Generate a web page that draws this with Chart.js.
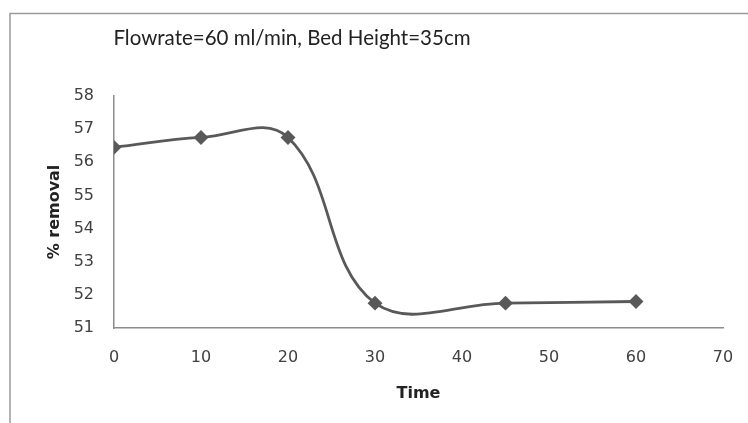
<!DOCTYPE html>
<html>
<head>
<meta charset="utf-8">
<script src="https://cdn.jsdelivr.net/npm/chart.js@4.4.1/dist/chart.umd.min.js"></script>
<style>
	html, body { margin: 0; padding: 0; background: #fff; }
	#wrap { width: 748px; height: 423px; position: relative; }
</style>
</head>
<body>
<div id="wrap"><canvas id="removalChart"></canvas></div>
<script>
const chartTitle = "Flowrate=60 ml/min, Bed Height=35cm";
const timeValues = [0, 10, 20, 30, 45, 60];
const removalValues = [56.45, 56.75, 56.75, 51.75, 51.75, 51.8];
const xTicks = [0, 10, 20, 30, 40, 50, 60, 70];
const yTicks = [51, 52, 53, 54, 55, 56, 57, 58];

const axisGray = "#8c8c8c";
const labelColor = "#404040";
const lineColor = "#595959";

// outer frame of the chart object plus the heading text
const framePlugin = {
	id: "frame",
	beforeDraw(chart) {
		const ctx = chart.ctx;
		ctx.save();
		ctx.strokeStyle = "#9a9a9a";
		ctx.lineWidth = 1.5;
		ctx.beginPath();
		ctx.moveTo(10, chart.height);
		ctx.lineTo(10, 13.5);
		ctx.lineTo(chart.width, 13.5);
		ctx.stroke();
		ctx.fillStyle = "#222";
		ctx.font = "20.5px Lato";
		ctx.textAlign = "center";
		ctx.textBaseline = "middle";
		ctx.fillText(chartTitle, 292, 38);
		ctx.restore();
	}
};

const tickFont = { family: "DejaVu Sans", size: 16 };
const axisTitleFont = { family: "DejaVu Sans", size: 16, weight: "bold" };

new Chart(document.getElementById("removalChart"), {
	type: "line",
	data: {
		datasets: [{
			data: timeValues.map((t, i) => ({ x: t, y: removalValues[i] })),
			borderColor: lineColor,
			backgroundColor: lineColor,
			borderWidth: 2.8,
			tension: 0.4,
			pointStyle: "rectRot",
			pointRadius: 5.5,
			pointHoverRadius: 5.5
		}]
	},
	options: {
		responsive: true,
		maintainAspectRatio: false,
		animation: false,
		layout: { padding: { left: 0, right: 25, top: 96, bottom: 0 } },
		plugins: {
			legend: { display: false },
			tooltip: { enabled: false }
		},
		scales: {
			x: {
				type: "linear",
				min: 0,
				max: 70,
				afterFit(scale) {
					scale.height = 95;
					scale.paddingLeft = 0;
					scale.paddingRight = 0;
				},
				afterBuildTicks(scale) { scale.ticks = xTicks.map(v => ({ value: v })); },
				grid: { display: false, drawTicks: false },
				border: { color: axisGray, width: 1.5 },
				ticks: { color: labelColor, font: tickFont, padding: 20, maxRotation: 0 },
				title: { display: true, text: "Time", color: "#222", font: axisTitleFont, padding: { bottom: 20 } }
			},
			y: {
				min: 51,
				max: 58,
				afterFit(scale) {
					scale.width = 114;
					scale.paddingTop = 0;
					scale.paddingBottom = 0;
				},
				afterBuildTicks(scale) { scale.ticks = yTicks.map(v => ({ value: v })); },
				grid: { display: false, drawTicks: false },
				border: { color: axisGray, width: 1.5 },
				ticks: { color: labelColor, font: tickFont, padding: 20 },
				title: { display: true, text: "% removal", color: "#222", font: axisTitleFont, padding: { top: 45 } }
			}
		}
	},
	plugins: [framePlugin]
});
</script>
</body>
</html>
